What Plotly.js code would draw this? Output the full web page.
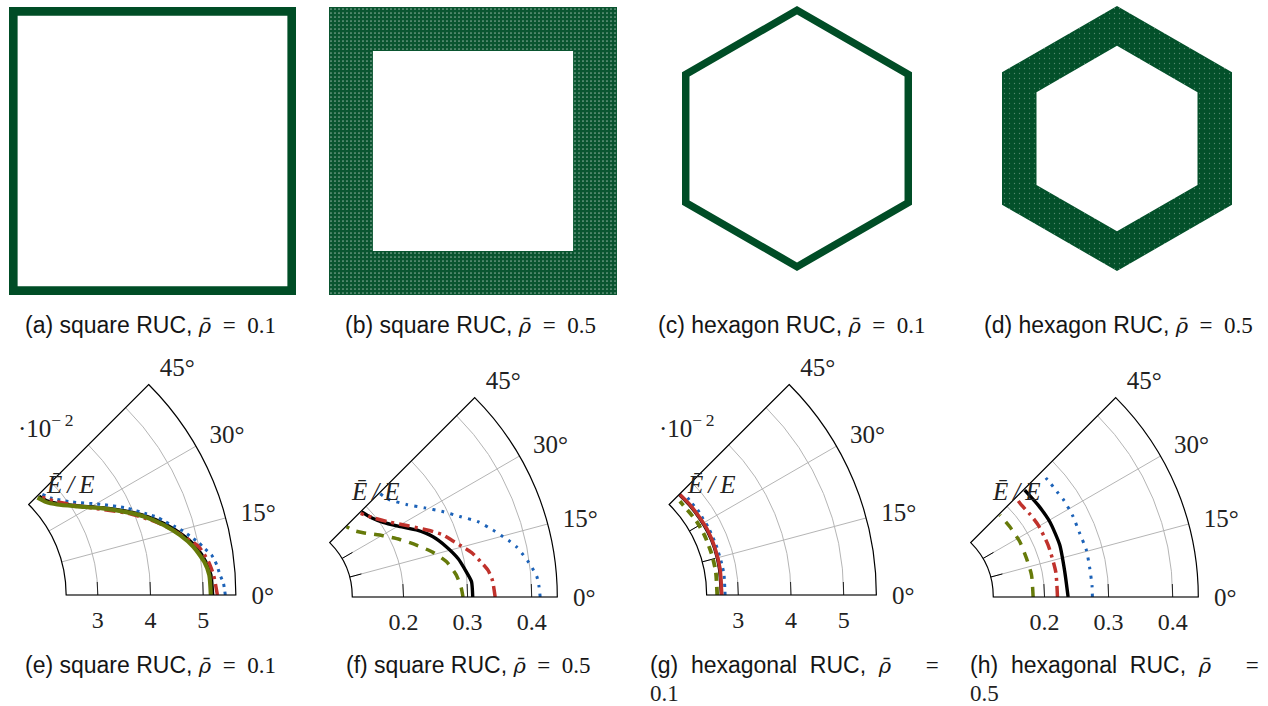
<!DOCTYPE html>
<html><head><meta charset="utf-8">
<script src="https://cdn.plot.ly/plotly-3.0.1.min.js"></script>
<style>html,body{margin:0;padding:0;background:#fff;overflow:hidden;width:1268px;height:706px}
#chart{position:absolute;left:-70px;top:0;width:1338px;height:706px}</style></head>
<body><div id="chart"></div>
<script>
// ---------- RUC outlines (normalised geometry) ----------
const squareA_x=[-1,1,1,-1,-1,null,-0.94,-0.94,0.94,0.94,-0.94];
const squareA_y=[-1,-1,1,1,-1,null,-0.94,0.94,0.94,-0.94,-0.94];
const squareB_x=[-1,1,1,-1,-1,null,-0.695,-0.695,0.695,0.695,-0.695];
const squareB_y=[-1,-1,1,1,-1,null,-0.695,0.695,0.695,-0.695,-0.695];
const hexC_x=[0,1,1,0,-1,-1,0,null,0,-0.935,-0.935,0,0.935,0.935,0];
const hexC_y=[1,0.5,-0.5,-1,-0.5,0.5,1,null,0.935,0.4675,-0.4675,-0.935,-0.4675,0.4675,0.935];
const hexD_x=[0,1,1,0,-1,-1,0,null,0,-0.7,-0.7,0,0.7,0.7,0];
const hexD_y=[1,0.5,-0.5,-1,-0.5,0.5,1,null,0.7,0.35,-0.35,-0.7,-0.35,0.35,0.7];

// ---------- Panel (e) square, rho 0.1 (x 1e-2) ----------
const e_black_t=[0,4.2,7.1,10.7,13.9,17.3,20.9,24.2,28.1,32.5,37.2,40.9,44.4];
const e_black_r=[5.18,5.16,5.09,4.94,4.74,4.49,4.18,3.86,3.49,3.12,2.84,2.70,2.65];
const e_green_t=[0,4.2,7.1,10.7,13.9,17.3,20.9,24.2,28.1,32.5,37.2,40.9,44.4];
const e_green_r=[5.145,5.13,5.06,4.90,4.70,4.45,4.15,3.83,3.47,3.10,2.81,2.67,2.61];
const e_red_t=[0,4.2,7,10.5,16,19.5,23.4,27.2,32.7,38.6,43.2];
const e_red_r=[5.27,5.21,5.14,5.0,4.55,4.24,3.88,3.51,3.11,2.82,2.68];
const e_blue_t=[0,2.3,4.2,6.1,8.2,9.8,11.4,13,14.7,16.1,17.9,19.6,21.2,24.7,29.2,34.7,40.2,44];
const e_blue_r=[5.42,5.39,5.33,5.29,5.22,5.11,5.01,4.89,4.77,4.65,4.50,4.38,4.22,3.92,3.50,3.07,2.81,2.72];
// ---------- Panel (f) square, rho 0.5 ----------
const f_black_t=[0,4.5,7.5,11.9,16.4,20.9,25.4,30,34.7,39.5,44.7];
const f_black_r=[0.308,0.307,0.3006,0.2913,0.278,0.2634,0.2437,0.2212,0.2045,0.1944,0.189];
const f_red_t=[0,4.5,7.2,9.9,12.8,15.3,17.5,20.3,23.6,28.2,33.7,39,44.4];
const f_red_r=[0.343,0.3396,0.3344,0.3247,0.3137,0.3009,0.2906,0.279,0.2602,0.235,0.2115,0.1964,0.1862];
const f_green_t=[0,2.7,6.9,11.7,15.8,20.2,24.8,29.6,36.2,40.5,44.6];
const f_green_r=[0.2928,0.2905,0.2845,0.2725,0.2557,0.2346,0.2139,0.1934,0.1698,0.16,0.156];
const f_blue_t=[0,2.5,4.4,6.2,8.1,10,11.8,13.4,15.2,17.1,20.4,23.6,27.3,30.8,35.2,40.9,44.7];
const f_blue_r=[0.4133,0.4116,0.4094,0.4042,0.398,0.391,0.3841,0.3758,0.3653,0.3552,0.3373,0.3139,0.2917,0.2715,0.2504,0.233,0.2295];
// ---------- Panel (g) hexagon, rho 0.1 (x 1e-2) ----------
const g_black_t=[0,10.7,19,26.1,32.4,39.1,44.8];
const g_black_r=[2.68,2.69,2.70,2.70,2.69,2.68,2.67];
const g_red_t=[0,10.7,19,26.1,32.4,39.1,44.8];
const g_red_r=[2.686,2.70,2.707,2.711,2.698,2.69,2.677];
const g_green_t=[0,9.7,17.1,24.9,32,40.7,42.8];
const g_green_r=[2.60,2.61,2.612,2.614,2.61,2.587,2.59];
const g_blue_t=[0,8.1,12.5,20.1,27.6,31.4,35.2,39.2,42.9];
const g_blue_r=[2.75,2.756,2.75,2.746,2.746,2.74,2.748,2.736,2.746];
// ---------- Panel (h) hexagon, rho 0.5 ----------
const h_black_t=[0,9.7,19.9,29.4,37,44.6];
const h_black_r=[0.2368,0.2349,0.238,0.239,0.238,0.2375];
const h_red_t=[0,10.3,21.5,30.5,36.1,41.1,44.9];
const h_red_r=[0.2202,0.221,0.221,0.2207,0.2193,0.2178,0.2193];
const h_green_t=[0,10.8,19.3,28.1,36.9,44.4];
const h_green_r=[0.1822,0.1829,0.1821,0.183,0.1824,0.1825];
const h_blue_t=[0,3.7,9.6,15.4,21.3,27.7,33.7,36.8,39.8,42.6];
const h_blue_r=[0.2747,0.2747,0.2743,0.2752,0.2736,0.275,0.2752,0.2742,0.2743,0.2745];

const angleTicks=[0,15,30,45];
const angleLabels=['0°','15°','30°','45°'];
const lowTicks=[3,4,5], lowLabels=['3','4','5'];
const highTicks=[0.2,0.3,0.4], highLabels=['0.2','0.3','0.4'];

const OFF=70,W=1338,H=706;
const DARK='#004d26',BLACK='#000000',GREEN='#667a0a',RED='#c0322c',BLUE='#1c62b8';
const SERIF="'Liberation Serif',serif", SANS="'Liberation Sans',sans-serif";
const NONE='rgba(0,0,0,0)';
const xd=(a,b)=>[(a+OFF)/W,(b+OFF)/W], yd=(t,b)=>[1-b/H,1-t/H];

const traces=[];
const layout={width:W,height:H,margin:{l:0,r:0,t:0,b:0},paper_bgcolor:'#fff',plot_bgcolor:NONE,showlegend:false,annotations:[]};

// top row ------------------------------------------------
function ruc(i,x,y,box,pattern){
  const s=i===1?'':String(i);
  const hidden={visible:false,fixedrange:true};
  layout['xaxis'+s]=Object.assign({domain:xd(box[0],box[1]),range:[-1,1],anchor:'y'+s},hidden);
  layout['yaxis'+s]=Object.assign({domain:yd(box[2],box[3]),range:[-1,1],anchor:'x'+s},hidden);
  const t={type:'scatter',mode:'lines',x:x,y:y,xaxis:'x'+s,yaxis:'y'+s,fill:'toself',fillcolor:DARK,line:{width:0,color:DARK},hoverinfo:'skip'};
  if(pattern) t.fillpattern=pattern;
  traces.push(t);
}
ruc(1,squareA_x,squareA_y,[9,296,7,295]);
ruc(2,squareB_x,squareB_y,[329,617,7,295],{shape:'.',size:4,solidity:0.15,fgcolor:'#ffffff',bgcolor:'#0a5530',fillmode:'overlay'});
ruc(3,hexC_x,hexC_y,[682,912,6,271]);
ruc(4,hexD_x,hexD_y,[1002,1232,6,271],{shape:'.',size:5,solidity:0.05,fgcolor:'#9fbfae',bgcolor:'#03502a',fillmode:'overlay'});

// bottom row ---------------------------------------------
function polar(i,box,range,hole,tv,tl){
  layout['polar'+(i===1?'':i)]={
    domain:{x:xd(box[0],box[1]),y:yd(box[2],box[3])},
    sector:[0,45],hole:hole,bgcolor:NONE,
    radialaxis:{range:range,angle:0,side:'clockwise',tickvals:tv,ticktext:tl,ticks:'outside',ticklen:4,tickwidth:1,tickcolor:NONE,
      showline:false,gridcolor:'#b5b5b5',gridwidth:1,tickangle:0,tickfont:{family:SERIF,size:24,color:'#222'}},
    angularaxis:{thetaunit:'degrees',direction:'counterclockwise',rotation:0,tickvals:angleTicks,ticktext:angleLabels,ticks:'outside',ticklen:10,tickcolor:NONE,
      showline:true,linecolor:'#000',linewidth:1.2,gridcolor:'#b5b5b5',gridwidth:1,tickfont:{family:SERIF,size:25,color:'#222'}}
  };
}
const sp=i=>'polar'+(i===1?'':i);
function curve(i,t,r,color,width,dash){
  traces.push({type:'scatterpolar',subplot:sp(i),mode:'lines',theta:t,r:r,
    line:{color:color,width:width,dash:dash,shape:'spline',smoothing:0.6},hoverinfo:'skip'});
}
function innerTicks(i,r0,r1){
  [15,30].forEach(a=>traces.push({type:'scatterpolar',subplot:sp(i),mode:'lines',theta:[a,a],r:[r0,r1],line:{color:'#000',width:1},hoverinfo:'skip'}));
}
function radialTicks(i,vals,pxPerUnit){
  vals.forEach(v=>traces.push({type:'scatterpolar',subplot:sp(i),mode:'lines',theta:[0,13/(v*pxPerUnit)*180/Math.PI],r:[v,v],line:{color:'#222',width:1},hoverinfo:'skip'}));
}
const DOT='3px,6.2px',DASH='10px,8px',DD='11px,5px,3px,5px';
polar(1,[-62,236,384.5,595],[2.4,5.62],0.43,lowTicks,lowLabels);
polar(2,[275.3,557.3,397.6,597],[0.12,0.44],0.273,highTicks,highLabels);
polar(3,[578.5,876.5,384.5,595],[2.4,5.62],0.43,lowTicks,lowLabels);
polar(4,[916.3,1198.3,397.6,597],[0.12,0.44],0.273,highTicks,highLabels);

radialTicks(1,lowTicks,53);
curve(1,e_black_t,e_black_r,BLACK,3.4,'solid');
curve(1,e_blue_t,e_blue_r,BLUE,3,'3px,5px');
curve(1,e_red_t,e_red_r,RED,3.5,DD);
curve(1,e_green_t,e_green_r,GREEN,4.2,'solid');

innerTicks(2,0.12,0.139);
radialTicks(2,highTicks,642);
curve(2,f_black_t,f_black_r,BLACK,3.4,'solid');
curve(2,f_blue_t,f_blue_r,BLUE,3,DOT);
curve(2,f_red_t,f_red_r,RED,3.5,DD);
curve(2,f_green_t,f_green_r,GREEN,3.5,DASH);

innerTicks(3,2.4,2.65);
radialTicks(3,lowTicks,53);
curve(3,g_black_t,g_black_r,BLACK,3.4,'solid');
curve(3,g_blue_t,g_blue_r,BLUE,3,'3px,5px');
curve(3,g_green_t,g_green_r,GREEN,3.8,'8px,6px');
curve(3,g_red_t,g_red_r,RED,3.6,'solid');

innerTicks(4,0.12,0.139);
radialTicks(4,highTicks,642);
curve(4,h_black_t,h_black_r,BLACK,3.4,'solid');
curve(4,h_blue_t,h_blue_r,BLUE,3,DOT);
curve(4,h_red_t,h_red_r,RED,3.5,DD);
curve(4,h_green_t,h_green_r,GREEN,3.5,DASH);

// text ---------------------------------------------------
function note(x,y,text,family,size,color){
  layout.annotations.push({xref:'paper',yref:'paper',x:(x+OFF)/W,y:1-y/H,xanchor:'left',yanchor:'middle',showarrow:false,align:'left',
    text:text,font:{family:family,size:size,color:color||'#222'},borderpad:0,borderwidth:0});
}
const NB='\u00A0';
const rho=`<span style="font-family:'DejaVu Serif',serif;font-size:21px"><i>ρ̄</i></span>`;
const m=s=>rho+`<span style="font-family:'Liberation Serif',serif">${s}</span>`;
const val=v=>`${NB}${NB}=${NB}${NB}${v}`;
const cap=[
 [25,325,'(a) square RUC, '+m(val('0.1'))],
 [345,325,'(b) square RUC, '+m(val('0.5'))],
 [658,325,'(c) hexagon RUC, '+m(val('0.1'))],
 [984,325,'(d) hexagon RUC, '+m(val('0.5'))],
 [25,665,'(e) square RUC, '+m(val('0.1'))],
 [346,665,'(f) square RUC, '+m(val('0.5'))],
 [650,665,`(g)${NB}${NB}hexagonal${NB}${NB}RUC,${NB}${NB}`+m(`${NB}${NB}${NB}${NB}${NB}${NB}=`)],
 [970,665,`(h)${NB}${NB}hexagonal${NB}${NB}RUC,${NB}${NB}`+m(`${NB}${NB}${NB}${NB}${NB}${NB}=`)]];
cap.forEach(c=>note(c[0],c[1],c[2],SANS,23,'#151515'));
note(650,693,'0.1',SERIF,23);
note(970,693,'0.5',SERIF,23);
[[46,484],[351,491],[687,484],[992,491]].forEach(p=>note(p[0],p[1],'<i>Ē\u2009/\u2009E</i>',SERIF,25));
[[18,426],[659,426]].forEach(p=>note(p[0],p[1],'·10<sup>−\u20092</sup>',SERIF,25));

Plotly.newPlot('chart',traces,layout,{displayModeBar:false,staticPlot:true});
</script></body></html>
